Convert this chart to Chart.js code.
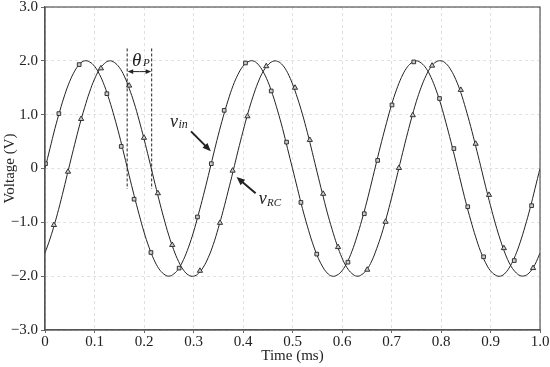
<!DOCTYPE html>
<html>
<head>
<meta charset="utf-8">
<script src="https://cdn.jsdelivr.net/npm/chart.js@4.4.1/dist/chart.umd.min.js"></script>
<style>
  html, body { margin: 0; padding: 0; background: #fff; }
  #wrap { width: 550px; height: 367px; position: relative; }
</style>
</head>
<body>
<div id="wrap"><canvas id="wave"></canvas></div>
<script>
// sample times (ms)
const timeMs = Array.from({ length: 101 }, (_, i) => i / 100);

// input voltage v_in (V), every 0.01 ms
const vIn = [0, 0.37, 0.74, 1.07, 1.37, 1.62, 1.81, 1.94, 2.00, 1.98, 1.90, 1.75, 1.54, 1.27, 0.96, 0.62, 0.25, -0.13, -0.50, -0.85,
  -1.18, -1.46, -1.69, -1.86, -1.96, -2.00, -1.96, -1.86, -1.69, -1.46, -1.18, -0.85, -0.50, -0.13, 0.25, 0.62, 0.96, 1.27, 1.54, 1.75,
  1.90, 1.98, 2.00, 1.94, 1.81, 1.62, 1.37, 1.07, 0.74, 0.37, 0, -0.37, -0.74, -1.07, -1.37, -1.62, -1.81, -1.94, -2.00, -1.98,
  -1.90, -1.75, -1.54, -1.27, -0.96, -0.62, -0.25, 0.13, 0.50, 0.85, 1.18, 1.46, 1.69, 1.86, 1.96, 2.00, 1.96, 1.86, 1.69, 1.46,
  1.18, 0.85, 0.50, 0.13, -0.25, -0.62, -0.96, -1.27, -1.54, -1.75, -1.90, -1.98, -2.00, -1.94, -1.81, -1.62, -1.37, -1.07, -0.74, -0.37, 0];

// RC voltage v_RC (V), same sample times
const vRC = [-1.57, -1.31, -1.01, -0.67, -0.30, 0.08, 0.45, 0.81, 1.13, 1.42, 1.66, 1.84, 1.95, 2.00, 1.97, 1.88, 1.72, 1.49, 1.22, 0.90,
  0.55, 0.18, -0.20, -0.57, -0.92, -1.24, -1.51, -1.73, -1.89, -1.98, -2.00, -1.95, -1.83, -1.65, -1.41, -1.11, -0.78, -0.42, -0.05, 0.33,
  0.69, 1.03, 1.33, 1.59, 1.79, 1.92, 1.99, 1.99, 1.92, 1.78, 1.57, 1.31, 1.01, 0.67, 0.30, -0.08, -0.45, -0.81, -1.13, -1.42,
  -1.66, -1.84, -1.95, -2.00, -1.97, -1.88, -1.72, -1.49, -1.22, -0.90, -0.55, -0.18, 0.20, 0.57, 0.92, 1.24, 1.51, 1.73, 1.89, 1.98,
  2.00, 1.95, 1.83, 1.65, 1.41, 1.11, 0.78, 0.42, 0.05, -0.33, -0.69, -1.03, -1.33, -1.59, -1.79, -1.92, -1.99, -1.99, -1.92, -1.78, -1.57];

// square markers on v_in
const inMarkX = [0.001, 0.028, 0.069, 0.125, 0.154, 0.180, 0.214, 0.271, 0.308, 0.336, 0.362, 0.405, 0.457, 0.488,
  0.517, 0.549, 0.612, 0.645, 0.672, 0.701, 0.745, 0.797, 0.826, 0.854, 0.886, 0.948, 0.983];
const inMarkY = [0.09, 1.02, 1.93, 1.39, 0.41, -0.57, -1.56, -1.85, -0.90, 0.09, 1.08, 1.96, 1.44, 0.49,
  -0.63, -1.59, -1.74, -0.84, 0.15, 1.18, 1.98, 1.30, 0.37, -0.71, -1.64, -1.71, -0.69];

// triangle markers on v_RC
const rcMarkX = [0.018, 0.0465, 0.073, 0.113, 0.170, 0.200, 0.228, 0.257, 0.313, 0.3535, 0.379, 0.409, 0.447, 0.505,
  0.535, 0.562, 0.592, 0.651, 0.688, 0.715, 0.743, 0.782, 0.840, 0.870, 0.897, 0.927, 0.986];
const rcMarkY = [-1.05, -0.06, 0.92, 1.86, 1.54, 0.57, -0.46, -1.42, -1.90, -1.01, -0.04, 0.97, 1.90, 1.50,
  0.53, -0.47, -1.46, -1.88, -0.99, 0.01, 0.99, 1.91, 1.46, 0.46, -0.49, -1.48, -1.85];

const pts = (xs, ys) => xs.map((x, i) => ({ x: x, y: ys[i] }));

const serif = '"Liberation Serif", "DejaVu Serif", serif';
const ink = '#222';

function arrow(ctx, x1, y1, x2, y2, head) {
  const a = Math.atan2(y2 - y1, x2 - x1);
  ctx.beginPath();
  ctx.moveTo(x1, y1);
  ctx.lineTo(x2 - Math.cos(a) * head * 0.8, y2 - Math.sin(a) * head * 0.8);
  ctx.stroke();
  ctx.beginPath();
  ctx.moveTo(x2, y2);
  ctx.lineTo(x2 - head * Math.cos(a - 0.4), y2 - head * Math.sin(a - 0.4));
  ctx.lineTo(x2 - head * Math.cos(a + 0.4), y2 - head * Math.sin(a + 0.4));
  ctx.closePath();
  ctx.fill();
}

// box, phase marks and curve labels
const notes = {
  id: 'notes',
  afterDatasetsDraw(chart) {
    const { ctx, chartArea: a, scales: { x, y } } = chart;
    const px = v => x.getPixelForValue(v);
    const py = v => y.getPixelForValue(v);
    ctx.save();
    ctx.strokeStyle = ink;
    ctx.fillStyle = ink;

    // theta_P dashed lines
    ctx.lineWidth = 1;
    ctx.setLineDash([3, 2]);
    [0.166, 0.2155].forEach(t => {
      ctx.beginPath();
      ctx.moveTo(px(t), py(2.23));
      ctx.lineTo(px(t), py(-0.38));
      ctx.stroke();
    });
    ctx.setLineDash([]);
    const ya = py(1.8);
    const xm = (px(0.166) + px(0.2155)) / 2;
    arrow(ctx, xm, ya, px(0.166) + 0.5, ya, 6);
    arrow(ctx, xm, ya, px(0.2155) - 0.5, ya, 6);

    ctx.textBaseline = 'alphabetic';
    ctx.textAlign = 'left';
    ctx.font = 'italic 19px ' + serif;
    ctx.fillText('θ', px(0.176), py(1.9));
    ctx.font = 'italic 11px ' + serif;
    ctx.fillText('P', px(0.198), py(1.9));

    // v_in
    ctx.lineWidth = 2;
    arrow(ctx, px(0.295), py(0.69), px(0.335), py(0.32), 9);
    ctx.font = 'italic 18px ' + serif;
    ctx.fillText('v', px(0.2525), py(0.78));
    ctx.font = 'italic 12px ' + serif;
    ctx.fillText('in', px(0.2695), py(0.75));

    // v_RC
    arrow(ctx, px(0.4255), py(-0.46), px(0.387), py(-0.16), 9);
    ctx.font = 'italic 18px ' + serif;
    ctx.fillText('v', px(0.432), py(-0.66));
    ctx.font = 'italic 11px ' + serif;
    ctx.fillText('RC', px(0.4485), py(-0.69));

    // frame
    ctx.lineWidth = 1.2;
    ctx.strokeStyle = '#555';
    ctx.strokeRect(a.left, a.top, a.right - a.left, a.bottom - a.top);
    ctx.restore();
  }
};

const tickLabel = v => {
  const r = Math.round(v * 10) / 10;
  if (r === 0) return '0';
  return (r < 0 ? '\u2212' : '') + Math.abs(r).toFixed(1);
};

new Chart(document.getElementById('wave'), {
  type: 'line',
  data: {
    datasets: [
      { data: pts(timeMs, vIn), borderColor: ink, borderWidth: 1, pointRadius: 0, tension: 0.4, order: 2 },
      { data: pts(timeMs, vRC), borderColor: ink, borderWidth: 1, pointRadius: 0, tension: 0.4, order: 2 },
      { data: pts(inMarkX, inMarkY), showLine: false, pointStyle: 'rect', pointRadius: 2.6,
        backgroundColor: '#ccc', borderColor: '#333', pointBorderWidth: 1, order: 1 },
      { data: pts(rcMarkX, rcMarkY), showLine: false, pointStyle: 'triangle', pointRadius: 3,
        backgroundColor: '#ccc', borderColor: '#333', pointBorderWidth: 1, order: 1 }
    ]
  },
  options: {
    responsive: true,
    maintainAspectRatio: false,
    animation: false,
    layout: { padding: { left: 0, right: 10, top: 7, bottom: 0 } },
    plugins: { legend: { display: false }, tooltip: { enabled: false } },
    scales: {
      x: {
        type: 'linear',
        min: 0,
        max: 1,
        afterFit: s => { s.height = 37; s.paddingLeft = 0; s.paddingRight = 0; },
        ticks: { stepSize: 0.1, padding: 0, color: ink, font: { family: serif, size: 15 }, callback: tickLabel, maxRotation: 0 },
        grid: { color: '#d8d8d8', tickColor: '#444', tickLength: 3, lineWidth: 0.8 },
        border: { display: true, color: '#555', width: 1.2, dash: [3, 3] },
        title: { display: true, text: 'Time (ms)', color: ink, font: { family: serif, size: 15 }, padding: { top: 0, bottom: 1.5 } }
      },
      y: {
        min: -3,
        max: 3,
        afterFit: s => { s.width = 45; s.paddingTop = 0; s.paddingBottom = 0; },
        ticks: { stepSize: 1, padding: 3, color: ink, font: { family: serif, size: 15 }, callback: tickLabel },
        grid: { color: '#d8d8d8', tickColor: '#444', tickLength: 4, lineWidth: 0.8 },
        border: { display: true, color: '#555', width: 1.2, dash: [3, 3] },
        title: { display: true, text: 'Voltage (V)', color: ink, font: { family: serif, size: 15 }, padding: { top: 1, bottom: 0 } }
      }
    }
  },
  plugins: [notes]
});
</script>
</body>
</html>
